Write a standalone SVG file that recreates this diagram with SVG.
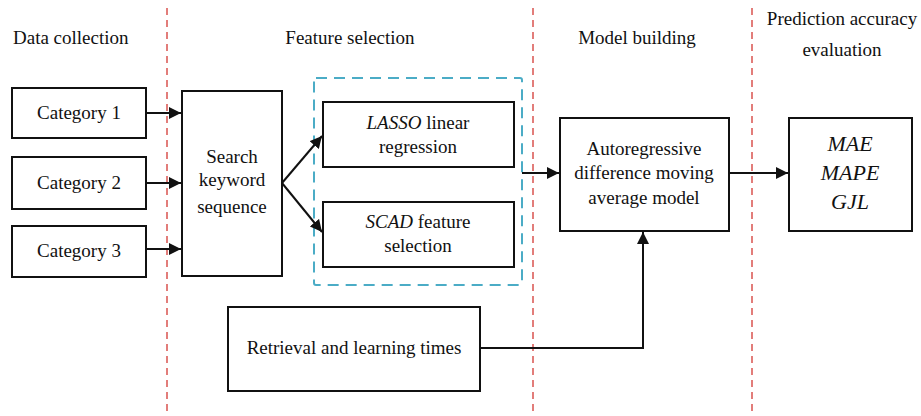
<svg xmlns="http://www.w3.org/2000/svg" width="921" height="416" viewBox="0 0 921 416">
<defs>
<style>
text{font-family:'Liberation Serif','DejaVu Serif',serif;font-size:19px;fill:#111;text-anchor:middle}
.t{text-anchor:start}
.i{font-style:italic}
.big{font-size:22px;font-style:italic}
.box{fill:#fff;stroke:#111;stroke-width:2}
.sep{stroke:#d9534f;stroke-width:1.5;stroke-dasharray:7 5;fill:none}
.grp{stroke:#4bacc6;stroke-width:2;stroke-dasharray:11 7;fill:none}
.c{stroke:#111;stroke-width:2;fill:none}
</style>
<marker id="a" viewBox="0 0 10 10" refX="10" refY="5" markerWidth="12" markerHeight="12" markerUnits="userSpaceOnUse" orient="auto">
<path d="M0,0 L10,5 L0,10 z" fill="#111"/>
</marker>
</defs>
<rect width="921" height="416" fill="#fff"/>
<g id="separators">
<line class="sep" x1="167" y1="8" x2="167" y2="416"/>
<line class="sep" x1="533" y1="8" x2="533" y2="416"/>
<line class="sep" x1="752" y1="8" x2="752" y2="416"/>
</g>
<g id="titles">
<text class="t" x="13" y="44">Data collection</text>
<text x="350" y="44">Feature selection</text>
<text x="637" y="44">Model building</text>
<text x="842" y="25">Prediction accuracy</text>
<text x="842" y="56">evaluation</text>
</g>
<g id="feature-group">
<rect class="grp" x="314" y="78" width="208" height="207" rx="2"/>
</g>
<g id="category1"><rect class="box" x="12" y="88" width="134" height="50"/><text x="79" y="119">Category 1</text></g>
<g id="category2"><rect class="box" x="12" y="157" width="134" height="52"/><text x="79" y="189">Category 2</text></g>
<g id="category3"><rect class="box" x="12" y="226" width="134" height="51"/><text x="79" y="257">Category 3</text></g>
<g id="search"><rect class="box" x="182" y="91" width="100" height="185"/>
<text x="232" y="163">Search</text><text x="232" y="186">keyword</text><text x="232" y="213">sequence</text></g>
<g id="lasso"><rect class="box" x="323" y="102" width="191" height="65"/>
<text x="418" y="129"><tspan class="i">LASSO</tspan> linear</text><text x="418" y="153">regression</text></g>
<g id="scad"><rect class="box" x="323" y="202" width="191" height="65"/>
<text x="418" y="228"><tspan class="i">SCAD</tspan> feature</text><text x="418" y="252">selection</text></g>
<g id="arima"><rect class="box" x="560" y="118" width="169" height="113"/>
<text x="644" y="155">Autoregressive</text><text x="644" y="179">difference moving</text><text x="644" y="204">average model</text></g>
<g id="metrics"><rect class="box" x="789" y="118" width="123" height="113"/>
<text class="big" x="850" y="151">MAE</text><text class="big" x="850" y="180">MAPE</text><text class="big" x="850" y="209">GJL</text></g>
<g id="retrieval"><rect class="box" x="228" y="307" width="252" height="84"/>
<text x="354" y="354">Retrieval and learning times</text></g>
<g id="connectors">
<line class="c" x1="146" y1="113" x2="181" y2="113" marker-end="url(#a)"/>
<line class="c" x1="146" y1="183" x2="181" y2="183" marker-end="url(#a)"/>
<line class="c" x1="146" y1="249" x2="181" y2="249" marker-end="url(#a)"/>
<line class="c" x1="282" y1="183" x2="322" y2="136" marker-end="url(#a)"/>
<line class="c" x1="282" y1="183" x2="322" y2="232" marker-end="url(#a)"/>
<line class="c" x1="522" y1="173" x2="559" y2="173" marker-end="url(#a)"/>
<line class="c" x1="729" y1="173" x2="788" y2="173" marker-end="url(#a)"/>
<polyline class="c" points="480,348 643,348 643,232" marker-end="url(#a)"/>
</g>
</svg>
